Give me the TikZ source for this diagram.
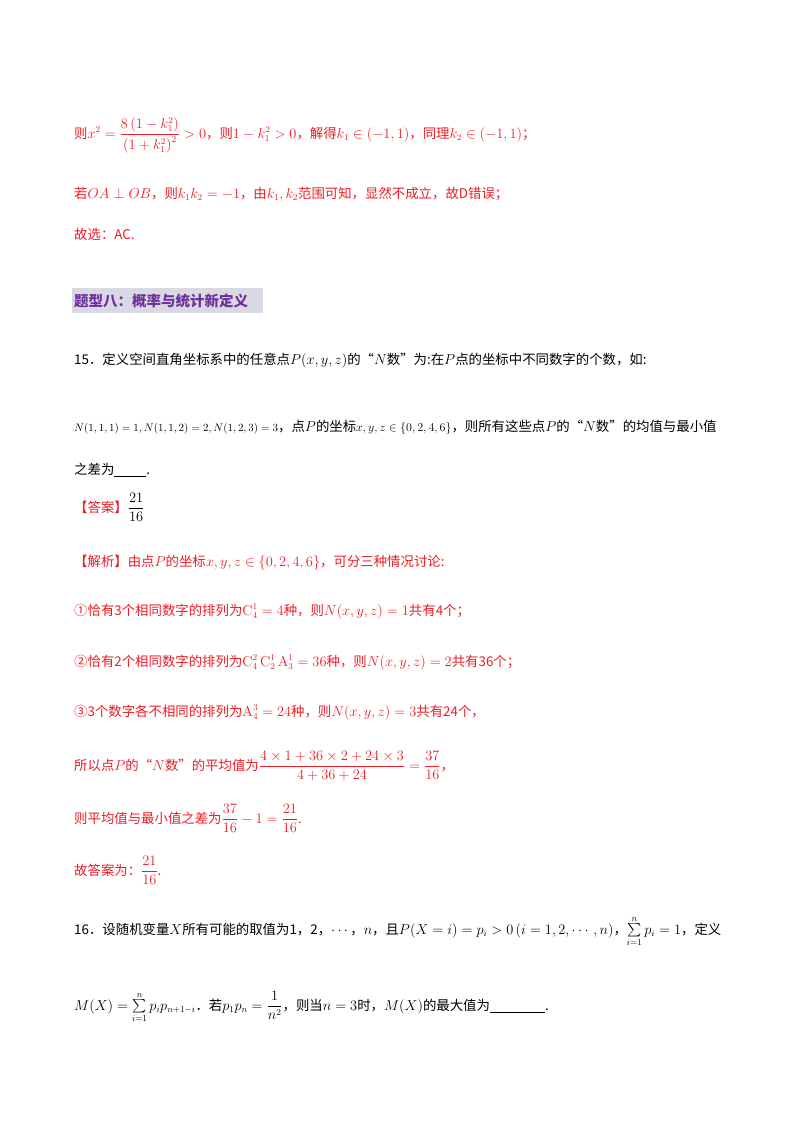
\documentclass[tikz,border=0pt]{standalone}
\usepackage[no-math]{fontspec}
\usepackage{amsmath,amssymb}
\setmainfont{Noto Sans CJK SC}
\definecolor{rd}{HTML}{EE1C25}
\definecolor{pu}{HTML}{7030A0}
\definecolor{hb}{HTML}{D9D9E3}
\tikzset{ln/.style={anchor=base west,inner sep=0pt,font=\fontsize{13.4}{15}\selectfont},
 rl/.style={ln,text=rd}}
\newcommand{\bl}[1]{\underline{\hspace{#1}}}
\begin{document}
\begin{tikzpicture}[x=1pt,y=-1pt]
\useasboundingbox[fill=white] (0,0) rectangle (800,1132);
\node[rl] (a1) at (74,138) {则$x^2=\dfrac{8\left(1-k_1^2\right)}{\left(1+k_1^2\right)^2}>0$，则$1-k_1^2>0$，解得$k_1\in(-1,1)$，同理$k_2\in(-1,1)$；};
\node[rl] (a2) at (74,198) {若$OA\perp OB$，则$k_1k_2=-1$，由$k_1,k_2$范围可知，显然不成立，故D错误；};
\node[rl] (a3) at (74,239) {故选：AC.};
\fill[hb] (72,288) rectangle (263,313);
\node[ln,text=pu,font=\fontsize{14.5}{16}\selectfont\bfseries] (h) at (74,306) {题型八：概率与统计新定义};
\node[ln] (q1) at (74,364) {15．定义空间直角坐标系中的任意点$P(x,y,z)$的“$N$数”为:在$P$点的坐标中不同数字的个数，如:};
\node[ln] (q2) at (74,431) {{\fontsize{11}{13}\selectfont$N(1,1,1)=1,N(1,1,2)=2,N(1,2,3)=3$}，点$P$的坐标{\fontsize{11.5}{13}\selectfont$x,y,z\in\{0,2,4,6\}$}，则所有这些点$P$的“$N$数”的均值与最小值};
\node[ln] (q3) at (74,474) {之差为\bl{32pt}.};
\node[ln] (ans) at (74,512) {\textcolor{rd}{【答案】}$\dfrac{21}{16}$};
\node[rl] (s1) at (74,566) {【解析】由点$P$的坐标$x,y,z\in\{0,2,4,6\}$，可分三种情况讨论:};
\node[rl] (s2) at (74,615) {①恰有3个相同数字的排列为$\mathrm{C}_4^1=4$种，则$N(x,y,z)=1$共有4个；};
\node[rl] (s3) at (74,666) {②恰有2个相同数字的排列为$\mathrm{C}_4^2\,\mathrm{C}_2^1\,\mathrm{A}_3^1=36$种，则$N(x,y,z)=2$共有36个；};
\node[rl] (s4) at (74,716) {③3个数字各不相同的排列为$\mathrm{A}_4^3=24$种，则$N(x,y,z)=3$共有24个，};
\node[rl] (s5) at (74,770) {所以点$P$的“$N$数”的平均值为$\dfrac{4\times1+36\times2+24\times3}{4+36+24}=\dfrac{37}{16}$，};
\node[rl] (s6) at (74,823) {则平均值与最小值之差为$\dfrac{37}{16}-1=\dfrac{21}{16}$.};
\node[rl] (s7) at (74,875) {故答案为：$\dfrac{21}{16}$.};
\node[ln] (p1) at (74,934) {16．设随机变量$X$所有可能的取值为1，2，$\cdots$，$n$，且$P(X=i)=p_i>0\,(i=1,2,\cdots,n)$，$\sum\limits_{i=1}^{n}p_i=1$，定义};
\node[ln] (p2) at (74,1010) {$M(X)=\sum\limits_{i=1}^{n}p_ip_{n+1-i}$．若$p_1p_n=\dfrac{1}{n^2}$，则当$n=3$时，$M(X)$的最大值为\bl{55pt}.};
\end{tikzpicture}
\end{document}
